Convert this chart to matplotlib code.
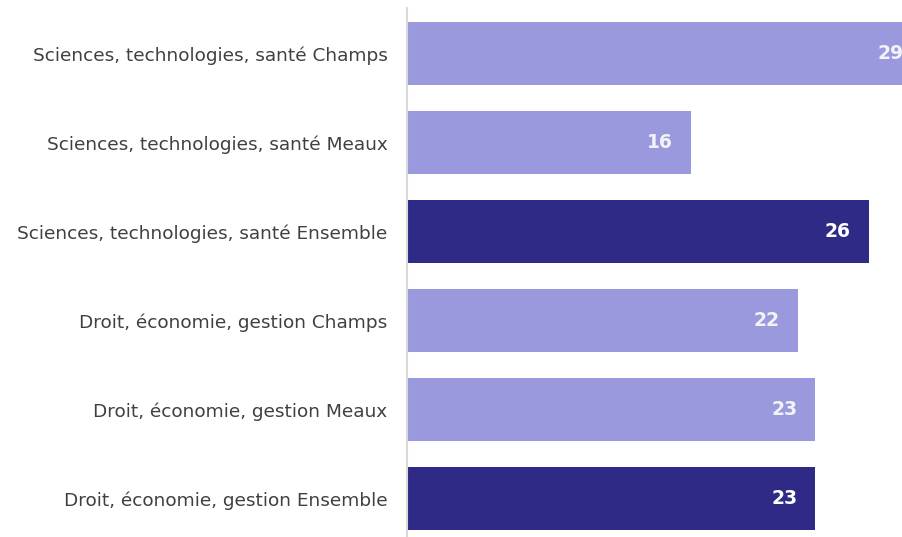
import matplotlib.pyplot as plt

# Daten
categories = [
    "Sciences, technologies, santé Champs",
    "Sciences, technologies, santé Meaux",
    "Sciences, technologies, santé Ensemble",
    "Droit, économie, gestion Champs",
    "Droit, économie, gestion Meaux",
    "Droit, économie, gestion Ensemble",
]
values = [29, 16, 26, 22, 23, 23]
is_total = [False, False, True, False, False, True]

light = "#9b99dd"
dark = "#2e2a85"

fig = plt.figure(figsize=(9.03, 5.37), dpi=100)
ax = fig.add_axes([407 / 903, 0, 496 / 903, 529 / 537])

ypos = list(range(len(categories)))
colors = [dark if t else light for t in is_total]
ax.barh(ypos, values, height=0.708, color=colors)

ax.set_xlim(0, 496 / 17.75)
ax.set_ylim(5 + 38.5 / 89, -45.5 / 89)

for y, v, t in zip(ypos, values, is_total):
    ax.annotate(str(v), xy=(v, y), xytext=(-18, 0), textcoords="offset pixels",
                ha="right", va="center", fontsize=13.5, fontweight="bold",
                color="white" if t else "#f2f2f7", annotation_clip=False)

ax.set_yticks(ypos)
ax.set_yticklabels(categories, fontsize=13.3, color="#404040")
ax.tick_params(axis="y", length=0, pad=14)
ax.set_xticks([])

for s in ["top", "right", "bottom"]:
    ax.spines[s].set_visible(False)
ax.spines["left"].set_color("#d9d9d9")
ax.spines["left"].set_linewidth(1.5)

fig.savefig("out.png", dpi=100)
